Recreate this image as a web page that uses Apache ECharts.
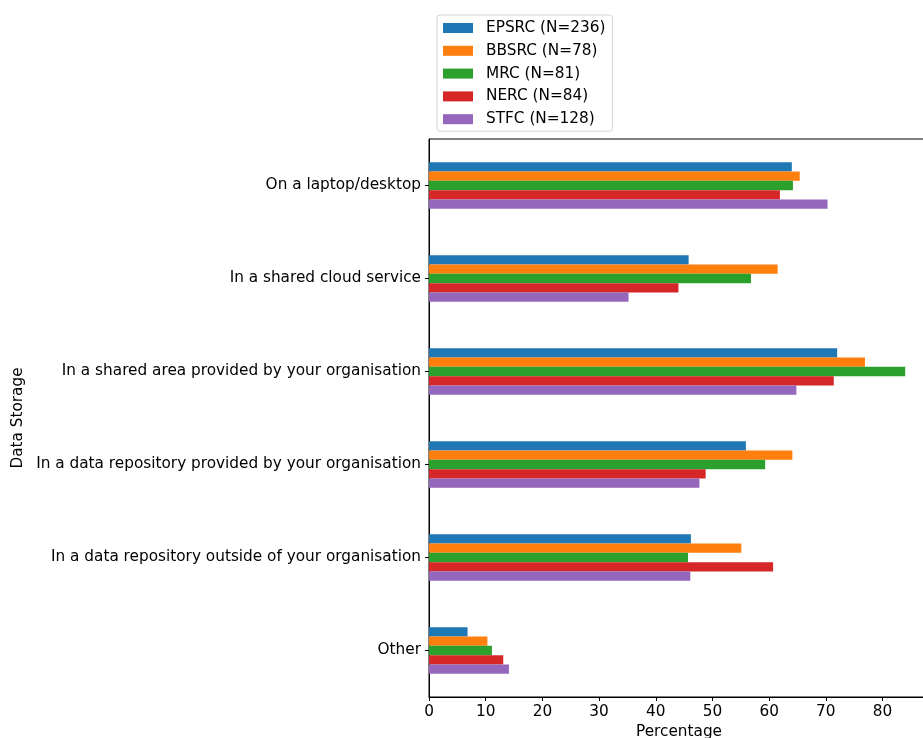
<!DOCTYPE html>
<html>
<head>
<meta charset="utf-8">
<script src="https://cdn.jsdelivr.net/npm/echarts@6/dist/echarts.min.js"></script>
<style>
  html, body { margin: 0; padding: 0; background: #fff; }
  #chart { width: 923px; height: 738px; }
</style>
</head>
<body>
<div id="chart"></div>
<script>
// Storage locations, top to bottom
const categories = [
  'On a laptop/desktop',
  'In a shared cloud service',
  'In a shared area provided by your organisation',
  'In a data repository provided by your organisation',
  'In a data repository outside of your organisation',
  'Other'
];

// Percentage of respondents per research council
const seriesNames = ['EPSRC (N=236)', 'BBSRC (N=78)', 'MRC (N=81)', 'NERC (N=84)', 'STFC (N=128)'];
const epsrc = [64.0, 45.8, 72.0, 55.9, 46.2, 6.8];
const bbsrc = [65.4, 61.5, 76.9, 64.1, 55.1, 10.3];
const mrc   = [64.2, 56.8, 84.0, 59.3, 45.7, 11.1];
const nerc  = [61.9, 44.0, 71.4, 48.8, 60.7, 13.1];
const stfc  = [70.3, 35.2, 64.8, 47.7, 46.1, 14.1];
const seriesValues = [epsrc, bbsrc, mrc, nerc, stfc];

const colors = ['#1f77b4', '#ff7f0e', '#2ca02c', '#d62728', '#9467bd'];
const font = 'DejaVu Sans';
const fs = 15.3;

const chart = echarts.init(document.getElementById('chart'), null, { renderer: 'canvas' });

chart.setOption({
  animation: false,
  color: colors,
  textStyle: { fontFamily: font },
  legend: {
    orient: 'vertical',
    left: 437,
    top: 15,
    padding: [4, 7, 3, 6],
    itemWidth: 30,
    itemHeight: 10,
    itemGap: 4.8,
    icon: 'rect',
    borderColor: '#d4d4d4',
    borderWidth: 1,
    borderRadius: 3,
    textStyle: { fontFamily: font, fontSize: fs, color: '#000', lineHeight: 18, padding: [0, 0, 0, 8] },
    data: seriesNames
  },
  grid: {
    left: 429,
    top: 139,
    width: 500,
    height: 558,
    show: true,
    borderColor: '#000',
    borderWidth: 1,
    containLabel: false,
    outerBoundsMode: 'none'
  },
  xAxis: {
    type: 'value',
    min: 0,
    max: 88.2,
    interval: 10,
    name: 'Percentage',
    nameLocation: 'middle',
    nameGap: 27,
    nameTextStyle: { fontFamily: font, fontSize: fs, color: '#000' },
    axisLine: { show: true, lineStyle: { color: '#000', width: 1 } },
    axisTick: { show: true, length: 4, lineStyle: { color: '#000' } },
    axisLabel: { fontFamily: font, fontSize: fs, color: '#000', margin: 8, showMaxLabel: false },
    splitLine: { show: false }
  },
  yAxis: {
    type: 'category',
    inverse: true,
    data: categories,
    name: 'Data Storage',
    nameLocation: 'middle',
    nameGap: 400,
    nameRotate: 90,
    nameTextStyle: { fontFamily: font, fontSize: fs, color: '#000' },
    axisLine: { show: true, lineStyle: { color: '#000', width: 1 } },
    axisTick: { show: true, alignWithLabel: true, length: 4, lineStyle: { color: '#000' } },
    axisLabel: { fontFamily: font, fontSize: fs, color: '#000', margin: 8, padding: [3, 0, 0, 0] }
  },
  series: seriesNames.map((name, i) => ({
    name: name,
    type: 'bar',
    data: seriesValues[i],
    barWidth: 9.3,
    barGap: '0%',
    itemStyle: { color: colors[i] }
  }))
});
</script>
</body>
</html>
